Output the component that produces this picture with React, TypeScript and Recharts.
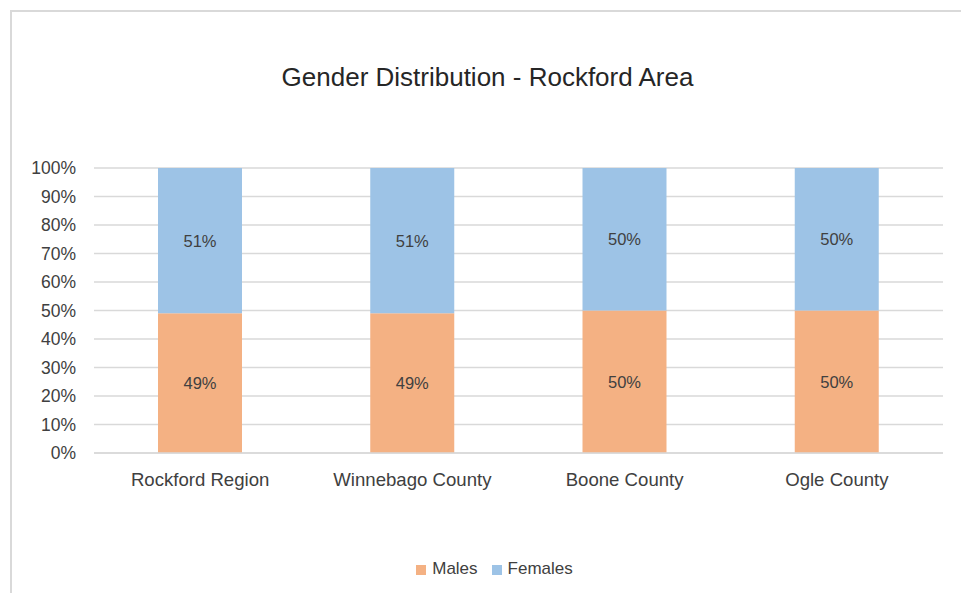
import { BarChart, Bar, XAxis, YAxis, CartesianGrid, Legend, LabelList } from 'recharts';

const categories = ['Rockford Region', 'Winnebago County', 'Boone County', 'Ogle County'];
const males = [49, 49, 50, 50];
const females = [51, 51, 50, 50];
const yTicks = [0, 10, 20, 30, 40, 50, 60, 70, 80, 90, 100];
const seriesOrder = ['Males', 'Females'];

const data = categories.map((name, i) => ({
  name,
  Males: males[i],
  Females: females[i],
}));

const FONT = '"Liberation Sans", Arial, sans-serif';

export default function App() {
  return (
    <div style={{ position: 'absolute', left: 0, top: 0, width: 961, height: 593, background: '#fff', fontFamily: FONT, overflow: 'hidden' }}>
      <div
        style={{
          position: 'absolute',
          left: 10,
          top: 10,
          width: 1000,
          height: 700,
          borderLeft: '2px solid #d9d9d9',
          borderTop: '2px solid #d9d9d9',
        }}
      />
      <div
        style={{
          position: 'absolute',
          top: 62,
          left: 0,
          width: 975,
          textAlign: 'center',
          fontSize: 26,
          color: '#262626',
        }}
      >
        Gender Distribution - Rockford Area
      </div>
      <div style={{ position: 'absolute', left: 0, top: 0 }}>
        <BarChart
          width={961}
          height={593}
          data={data}
          margin={{ top: 168, right: 18, bottom: 110, left: 0 }}
        >
          <CartesianGrid vertical={false} stroke="#d9d9d9" strokeWidth={1.5} />
          <XAxis
            dataKey="name"
            height={30}
            axisLine={{ stroke: '#d9d9d9', strokeWidth: 1.5 }}
            tickLine={false}
            tick={{ fill: '#404040', fontSize: 18.6, fontFamily: FONT }}
            tickMargin={14}
          />
          <YAxis
            width={94}
            domain={[0, 100]}
            ticks={yTicks}
            tickFormatter={(v) => `${v}%`}
            axisLine={false}
            tickLine={false}
            tick={{ fill: '#404040', fontSize: 17.5, fontFamily: FONT }}
            tickMargin={12}
          />
          <Legend
            layout="horizontal"
            verticalAlign="middle"
            align="center"
            iconType="square"
            iconSize={10}
            itemSorter={(item: any) => seriesOrder.indexOf(item.value)}
            wrapperStyle={{ top: 559, left: 30, fontSize: 17, fontFamily: FONT }}
            formatter={(value) => <span style={{ color: '#404040', marginLeft: 2, marginRight: 4 }}>{value}</span>}
          />
          <Bar dataKey="Males" stackId="a" fill="#F4B183" barSize={84} isAnimationActive={false}>
            <LabelList dataKey="Males" position="center" formatter={(v: any) => `${v}%`} fill="#404040" fontSize={16.5} fontFamily={FONT} />
          </Bar>
          <Bar dataKey="Females" stackId="a" fill="#9DC3E6" barSize={84} isAnimationActive={false}>
            <LabelList dataKey="Females" position="center" formatter={(v: any) => `${v}%`} fill="#404040" fontSize={16.5} fontFamily={FONT} />
          </Bar>
        </BarChart>
      </div>
    </div>
  );
}
